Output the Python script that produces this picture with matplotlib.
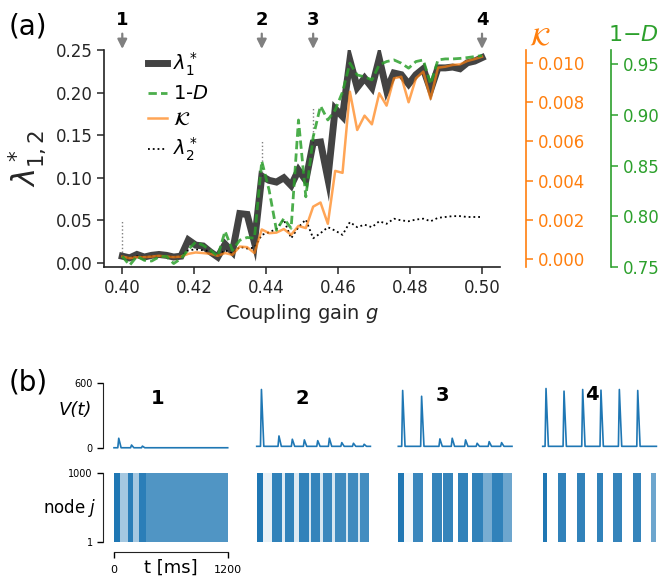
import numpy as np
import matplotlib
matplotlib.use("Agg")
import matplotlib.pyplot as plt

# ---------------- data: panel (a) ----------------
g = np.linspace(0.4, 0.5, 50)

lam1 = [0.008, 0.006, 0.010, 0.007, 0.009, 0.010, 0.009, 0.007, 0.008, 0.027,
        0.021, 0.020, 0.013, 0.007, 0.022, 0.013, 0.058, 0.057, 0.024, 0.102,
        0.097, 0.095, 0.100, 0.091, 0.109, 0.097, 0.141, 0.142, 0.099, 0.181,
        0.172, 0.238, 0.206, 0.217, 0.206, 0.240, 0.203, 0.223, 0.221, 0.210,
        0.221, 0.228, 0.203, 0.229, 0.229, 0.230, 0.228, 0.235, 0.237, 0.241]

one_minus_D = [0.7606, 0.7517, 0.7606, 0.7566, 0.7559, 0.7599, 0.7606, 0.7534, 0.7583, 0.7672,
               0.7747, 0.7714, 0.7665, 0.7606, 0.7853, 0.7665, 0.7764, 0.7791, 0.7784, 0.8544,
               0.8258, 0.7863, 0.7978, 0.7882, 0.8950, 0.8192, 0.8782, 0.9088, 0.8950, 0.9048,
               0.9226, 0.9510, 0.9394, 0.9375, 0.9345, 0.9493, 0.9526, 0.9542, 0.9510, 0.9461,
               0.9526, 0.9542, 0.9305, 0.9542, 0.9552, 0.9552, 0.9557, 0.9565, 0.9575, 0.9585]

kappa = [0.00013, 0.00005, 0.00010, 0.00010, 0.00013, 0.00017, 0.00013, 0.00010, 0.00013, 0.00027,
         0.00034, 0.00031, 0.00027, 0.00017, 0.00031, 0.00022, 0.00064, 0.00061, 0.00031, 0.00151,
         0.00132, 0.00135, 0.00153, 0.00124, 0.00169, 0.00158, 0.00267, 0.00288, 0.00180, 0.00449,
         0.00439, 0.00852, 0.00657, 0.00730, 0.00686, 0.00844, 0.00781, 0.00920, 0.00928, 0.00798,
         0.00920, 0.00954, 0.00815, 0.00974, 0.00979, 0.00988, 0.00991, 0.01008, 0.01018, 0.01030]

lam2 = [0.007, 0.006, 0.008, 0.007, 0.008, 0.008, 0.008, 0.007, 0.008, 0.015,
        0.016, 0.015, 0.014, 0.008, 0.015, 0.011, 0.019, 0.017, 0.018, 0.033,
        0.036, 0.040, 0.051, 0.029, 0.042, 0.051, 0.029, 0.035, 0.042, 0.038,
        0.033, 0.048, 0.042, 0.045, 0.042, 0.049, 0.046, 0.052, 0.050, 0.049,
        0.051, 0.052, 0.049, 0.053, 0.054, 0.055, 0.055, 0.054, 0.054, 0.054]

marker_idx = [0, 19, 26, 49]
marker_labels = ["1", "2", "3", "4"]
vline_idx = [0, 19, 26]
vline_top = [0.050, 0.144, 0.183]

# ---------------- data: panel (b) ----------------
peak_times = [[50, 185, 300],
              [50, 235, 376, 503, 644, 767, 898, 1021, 1134],
              [46, 246, 439, 569, 710, 832, 959, 1090],
              [35, 225, 422, 615, 809, 1003]]
peak_heights = [[92, 30, 20],
                [538, 113, 83, 77, 70, 92, 52, 46, 37],
                [529, 476, 86, 92, 77, 46, 61, 52],
                [547, 523, 538, 532, 538, 529]]
baselines = [5, 18, 18, 18]

# raster bands: (start ms, end ms, density)
bands = [
    [(0, 63, 1.0), (63, 145, 0.40), (145, 205, 0.95), (205, 267, 0.40), (267, 340, 0.95), (340, 1200, 0.78)],
    [(0, 63, 1.0), (63, 158, 0.10), (158, 264, 0.92), (264, 299, 0.15), (299, 394, 0.92), (394, 447, 0.15),
     (447, 556, 0.92), (556, 573, 0.18), (573, 668, 0.9), (668, 696, 0.18), (696, 798, 0.88), (798, 826, 0.18),
     (826, 939, 0.86), (939, 960, 0.18), (960, 1066, 0.86), (1066, 1090, 0.18), (1090, 1189, 0.84)],
    [(0, 60, 1.0), (60, 158, 0.05), (158, 264, 0.88), (352, 458, 0.9), (475, 580, 0.9), (633, 739, 0.92),
     (774, 897, 0.92), (897, 985, 0.6), (985, 1108, 0.92), (1108, 1196, 0.65)],
    [(0, 42, 1.0), (165, 243, 0.92), (365, 443, 0.92), (570, 640, 0.92), (745, 834, 0.9),
     (950, 1034, 0.9), (1143, 1200, 0.65)],
]

col_x_px = [114, 256.7, 398.3, 542.7]
col_titles = ["1", "2", "3", "4"]
title_pos = [(465, 460), (478, 460), (470, 487), (520, 495)]

# ---------------- figure ----------------
W, H = 661, 578
fig = plt.figure(figsize=(W / 100, H / 100), dpi=100)

BLUE = "#1f77b4"
ORANGE = "#ff7f0e"
GREEN = "#2ca02c"
TXT = "#262626"

ax = fig.add_axes([104.3 / W, 1 - 267 / H, (500 - 104.3) / W, (267 - 50) / H])
ax.set_xlim(0.395, 0.505)
ax.set_ylim(-0.0047, 0.25)
for s in ["top", "right"]:
    ax.spines[s].set_visible(False)
for s in ["left", "bottom"]:
    ax.spines[s].set_color("#222222")
    ax.spines[s].set_linewidth(1.2)
ax.set_xticks([0.40, 0.42, 0.44, 0.46, 0.48, 0.50])
ax.set_xticklabels([f"{v:.2f}" for v in [0.40, 0.42, 0.44, 0.46, 0.48, 0.50]])
ax.set_yticks([0.0, 0.05, 0.10, 0.15, 0.20, 0.25])
ax.set_yticklabels([f"{v:.2f}" for v in [0.0, 0.05, 0.10, 0.15, 0.20, 0.25]])
ax.tick_params(labelsize=12, colors=TXT, length=5, width=1.1)
ax.set_xlabel(r"Coupling gain $g$", fontsize=14, color=TXT, labelpad=4)
ax.set_ylabel(r"$\lambda^*_{1,2}$", fontsize=22, color=TXT, labelpad=5)

gv = np.asarray(g)
lam1_arr = np.asarray(lam1)
ax.vlines(gv[vline_idx], lam1_arr[vline_idx], vline_top, colors="gray", linestyles=":", lw=1.0)
l1, = ax.plot(gv, lam1, color="#222222", lw=5, alpha=0.85, solid_joinstyle="miter",
              label=r"$\lambda^*_1$")
l2, = ax.plot(gv, lam2, color="k", lw=1.3, ls=":", label=r"$\lambda^*_2$")

ax2 = ax.twinx()
ax2.set_ylim(-0.0004, 0.01064)
for s in ["top", "left", "bottom"]:
    ax2.spines[s].set_visible(False)
ax2.spines["right"].set_position(("outward", 19))
ax2.spines["right"].set_color(ORANGE)
ax2.spines["right"].set_linewidth(1.2)
ax2.set_yticks([0.0, 0.002, 0.004, 0.006, 0.008, 0.010])
ax2.set_yticklabels([f"{v:.3f}" for v in [0.0, 0.002, 0.004, 0.006, 0.008, 0.010]])
ax2.tick_params(axis="y", labelsize=12, colors=ORANGE, length=5, width=1.1)
l3, = ax2.plot(gv, kappa, color=ORANGE, lw=1.8, alpha=0.7, label=r"$\mathcal{K}$")

ax3 = ax.twinx()
ax3.set_ylim(0.75, 0.964)
for s in ["top", "left", "bottom"]:
    ax3.spines[s].set_visible(False)
ax3.spines["right"].set_position(("outward", 80))
ax3.spines["right"].set_color(GREEN)
ax3.spines["right"].set_linewidth(1.2)
ax3.set_yticks([0.75, 0.80, 0.85, 0.90, 0.95])
ax3.set_yticklabels([f"{v:.2f}" for v in [0.75, 0.80, 0.85, 0.90, 0.95]])
ax3.tick_params(axis="y", labelsize=12, colors=GREEN, length=5, width=1.1)
l4, = ax3.plot(gv, one_minus_D, color=GREEN, lw=2.0, alpha=0.85, ls=(0, (3, 1.5)),
               label=r"1-$D$")

leg = ax3.legend(handles=[l1, l4, l3, l2], loc="upper left", bbox_to_anchor=(0.09, 1.035),
                 frameon=False, fontsize=14, handlelength=1.0, handletextpad=0.3,
                 labelspacing=0.35, borderaxespad=0)

# arrows and labels
for idx, lab in zip(marker_idx, marker_labels):
    ax.annotate("", xy=(gv[idx], 0.248), xycoords="data", xytext=(0, 15),
                textcoords="offset points", annotation_clip=False,
                arrowprops=dict(arrowstyle="-|>", color="gray", lw=1.6, mutation_scale=14))
    ax.annotate(lab, xy=(gv[idx], 0.248), xycoords="data", xytext=(0, 22.5),
                textcoords="offset points", ha="center", va="center",
                fontsize=13, fontweight="bold", annotation_clip=False)

fig.text(540 / W, 1 - 38 / H, r"$\mathcal{K}$", color=ORANGE, fontsize=18, ha="center", va="center")
fig.text(633 / W, 1 - 35 / H, r"1$-D$", color=GREEN, fontsize=16, ha="center", va="center")
fig.text(28 / W, 1 - 27 / H, "(a)", fontsize=20, ha="center", va="center")
fig.text(28 / W, 1 - 382 / H, "(b)", fontsize=20, ha="center", va="center")

# ---------------- panel (b) ----------------
colw = 113.7 / W
for c in range(4):
    x0 = col_x_px[c] / W
    axv = fig.add_axes([x0, 1 - 448.3 / H, colw, (448.3 - 382.7) / H])
    axv.set_xlim(0, 1200)
    axv.set_ylim(0, 600)
    base = baselines[c]
    tt = [0]
    vv = [base]
    for tp, hp in zip(peak_times[c], peak_heights[c]):
        tt += [tp - 10, tp, tp + 25]
        vv += [base, hp, base]
    tt.append(1200)
    vv.append(base)
    axv.plot(tt, vv, color=BLUE, lw=1.2, clip_on=False)
    axv.text(*title_pos[c], col_titles[c], fontsize=14, fontweight="bold",
             ha="center", va="center")

    axr = fig.add_axes([x0, 1 - 541.7 / H, colw, (541.7 - 473.3) / H])
    axr.set_xlim(0, 1200)
    axr.set_ylim(1, 1000)
    for (t0, t1, dens) in bands[c]:
        axr.bar(t0, 999, width=t1 - t0, bottom=1, align="edge", color=BLUE,
                alpha=dens, linewidth=0)

    for a in (axv, axr):
        for s in a.spines.values():
            s.set_visible(False)
        a.set_xticks([])
        a.set_yticks([])

    if c == 0:
        axv.spines["left"].set_visible(True)
        axv.spines["left"].set_position(("outward", 7.7))
        axv.spines["left"].set_color("#222222")
        axv.set_yticks([0, 600])
        axv.tick_params(axis="y", labelsize=7, length=4, width=1)

        axr.spines["left"].set_visible(True)
        axr.spines["left"].set_position(("outward", 7.7))
        axr.spines["left"].set_color("#222222")
        axr.set_yticks([1, 1000])
        axr.tick_params(axis="y", labelsize=7, length=4, width=1)

        axr.spines["bottom"].set_visible(True)
        axr.spines["bottom"].set_position(("outward", 7.6))
        axr.spines["bottom"].set_color("#222222")
        axr.set_xticks([0, 1200])
        axr.tick_params(axis="x", labelsize=8, length=4, width=1, pad=5)

fig.text(75 / W, 1 - 410 / H, r"V(t)", fontsize=13, style="italic", ha="center", va="center")
fig.text(70 / W, 1 - 508 / H, r"node $j$", fontsize=12, ha="center", va="center")
fig.text(171 / W, 1 - 568 / H, "t [ms]", fontsize=13, ha="center", va="center")

fig.savefig("out.png", dpi=100)
